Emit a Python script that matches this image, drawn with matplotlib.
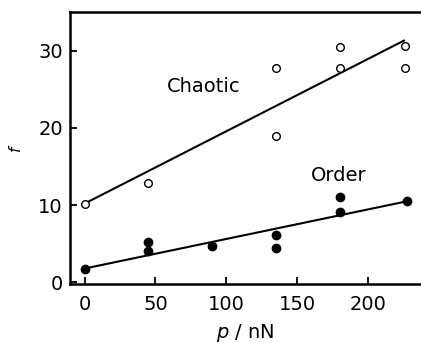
import matplotlib
matplotlib.use("Agg")
import matplotlib.pyplot as plt
import numpy as np

# Data
chaotic_x = [0, 45, 135, 135, 180, 180, 226, 226]
chaotic_y = [10.1, 12.9, 27.8, 18.9, 30.5, 27.8, 30.6, 27.8]
chaotic_fit_x = [0, 225]
chaotic_fit_y = [10.2, 31.3]

order_x = [0, 45, 45, 90, 135, 135, 180, 180, 227]
order_y = [1.7, 5.3, 4.1, 4.7, 6.1, 4.5, 11.0, 9.1, 10.5]
order_fit_x = [0, 227]
order_fit_y = [1.8, 10.5]

xticks = [0, 50, 100, 150, 200]
yticks = [0, 10, 20, 30]

fig = plt.figure(figsize=(4.21, 3.43), dpi=100)
ax = fig.add_axes([0.166, 0.172, 0.834, 0.793])

ax.plot(chaotic_fit_x, chaotic_fit_y, color="black", lw=1.5, zorder=2)
ax.plot(order_fit_x, order_fit_y, color="black", lw=1.5, zorder=2)
ax.plot(chaotic_x, chaotic_y, "o", mfc="white", mec="black", mew=1.0, ms=5.5, zorder=3)
ax.plot(order_x, order_y, "o", mfc="black", mec="black", ms=6, zorder=3)

ax.text(84, 25.4, "Chaotic", fontsize=14, ha="center", va="center")
ax.text(179, 13.9, "Order", fontsize=14, ha="center", va="center")

ax.set_xlim(-10.3, 237)
ax.set_ylim(-0.2, 35)
ax.set_xticks(xticks)
ax.set_yticks(yticks)
ax.tick_params(direction="in", length=5, width=1.3, labelsize=14)
ax.tick_params(axis="x", pad=8)
ax.tick_params(axis="y", pad=5)
for s in ["left", "bottom", "top"]:
    ax.spines[s].set_linewidth(1.8)
ax.spines["right"].set_visible(False)

ax.set_xlabel(r"$p$ / nN", fontsize=14, labelpad=6)
ax.set_ylabel(r"$f$", fontsize=11, labelpad=10)

fig.savefig("out.png", dpi=100)
